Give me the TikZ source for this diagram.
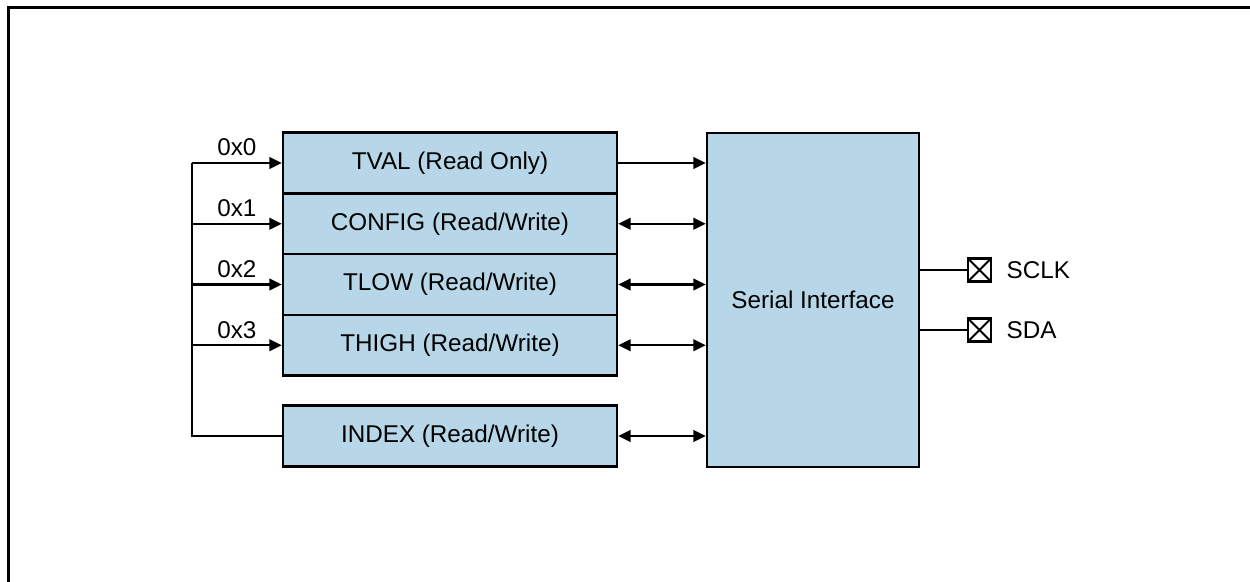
\documentclass[tikz,border=0pt]{standalone}
\usepackage{fontspec}
\setmainfont{Liberation Sans}
\usetikzlibrary{arrows.meta,positioning}
\definecolor{regblue}{RGB}{183,215,232}
\tikzstyle{reg} = [rectangle, draw, fill=regblue,
    minimum width=6.68cm, minimum height=1.215cm, inner sep=0pt]
\tikzstyle{iface} = [rectangle, draw, fill=regblue,
    minimum width=4.24cm, minimum height=6.68cm]
\tikzstyle{pin} = [rectangle, draw, fill=white, minimum size=0.46cm, inner sep=0pt,
    path picture={\draw[-,line width=1.1pt]
      (path picture bounding box.north west) -- (path picture bounding box.south east)
      (path picture bounding box.south west) -- (path picture bounding box.north east);}]

\begin{document}
\begin{tikzpicture}[->,>={Triangle[length=0.25cm,width=0.23cm]},auto,
                    node distance=1.215cm,line width=1.3pt,
                    font=\fontsize{13.8}{16}\selectfont]
  \useasboundingbox (0,0) rectangle (25,11.64);
  \draw[-,line width=0.06cm] (0.16,0) -- (0.16,11.48) -- (25,11.48);

  \node[reg]   (tval)   at (9,8.38)         {TVAL (Read Only)};
  \node[reg]   (config) [below of=tval]    {CONFIG (Read/Write)};
  \node[reg]   (tlow)   [below of=config]  {TLOW (Read/Write)};
  \node[reg]   (thigh)  [below of=tlow]    {THIGH (Read/Write)};
  \node[reg]   (index)  at (9,2.92)         {INDEX (Read/Write)};
  \node[iface] (serial) at (16.26,5.64)     {Serial Interface};
  \node[pin]   (sclk)   at (19.59,6.24)     {};
  \node[pin]   (sda)    at (19.59,5.04)     {};
  \node        (sclklbl) [right=0.15cm of sclk] {SCLK};
  \node        (sdalbl)  [right=0.15cm of sda]  {SDA};

  % address bus
  \coordinate (bus) at ([xshift=-1.8cm]index.west);
  \draw[-] (index.west) -- (bus) -- (bus |- tval.west);
  \path (bus |- tval.west)   edge node {0x0} (tval.west)
        (bus |- config.west) edge node {0x1} (config.west)
        (bus |- tlow.west)   edge node {0x2} (tlow.west)
        (bus |- thigh.west)  edge node {0x3} (thigh.west);

  % registers to serial interface
  \draw       (tval.east)   -- (tval.east -| serial.west);
  \draw[<->]  (config.east) -- (config.east -| serial.west);
  \draw[<->]  (tlow.east)   -- (tlow.east -| serial.west);
  \draw[<->]  (thigh.east)  -- (thigh.east -| serial.west);
  \draw[<->]  (index.east)  -- (index.east -| serial.west);

  % pins
  \draw[-] (serial.east |- sclk) -- (sclk);
  \draw[-] (serial.east |- sda)  -- (sda);
\end{tikzpicture}
\end{document}
